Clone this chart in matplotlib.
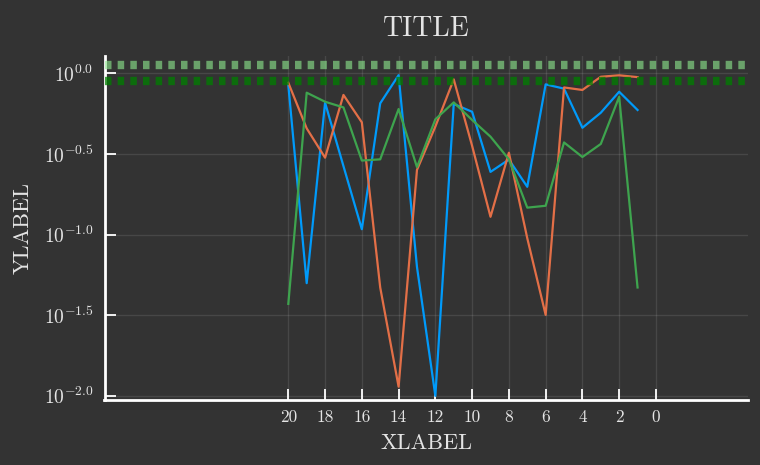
import matplotlib

matplotlib.use("Agg")

import matplotlib.pyplot as plt
import numpy as np
from matplotlib.ticker import FixedLocator, FuncFormatter

x_values = [20, 19, 18, 17, 16, 15, 14, 13, 12, 11, 10, 9, 8, 7, 6, 5, 4, 3, 2, 1]
blue_values = [0.847, 0.050, 0.658, 0.266, 0.108, 0.652, 0.975, 0.063, 0.010, 0.646,
               0.578, 0.245, 0.292, 0.198, 0.855, 0.804, 0.460, 0.570, 0.769, 0.593]
orange_values = [0.875, 0.456, 0.300, 0.735, 0.497, 0.047, 0.0114, 0.252, 0.468, 0.918,
                 0.355, 0.129, 0.322, 0.095, 0.0318, 0.818, 0.789, 0.953, 0.973, 0.948]
green_values = [0.0372, 0.759, 0.667, 0.615, 0.288, 0.293, 0.601, 0.262, 0.519, 0.661,
                0.514, 0.405, 0.293, 0.147, 0.151, 0.373, 0.303, 0.365, 0.716, 0.047]
hline_values = [1.12, 0.9]
x_ticks = [20, 18, 16, 14, 12, 10, 8, 6, 4, 2, 0]
y_ticks = [1.0, 10 ** -0.5, 0.1, 10 ** -1.5, 0.01]

BG = "#333333"
FG = "#e4e4e4"

plt.rcParams["font.family"] = "cmr10"
plt.rcParams["mathtext.fontset"] = "cm"
plt.rcParams["axes.formatter.use_mathtext"] = True

fig = plt.figure(figsize=(7.6, 4.65), dpi=100, facecolor=BG)
ax = fig.add_axes([0.1375, 0.14, 0.8465, 0.74], facecolor=BG)

ax.plot(x_values, blue_values, color="#009afa", lw=1.6, zorder=3)
ax.plot(x_values, orange_values, color="#e36f47", lw=1.6, zorder=3)
ax.plot(x_values, green_values, color="#3ea44e", lw=1.6, zorder=3)

hline_colors = [("#90ee90", 0.6), ("#008000", 0.75)]
for value, (color, alpha) in zip(hline_values, hline_colors):
    ax.axhline(value, color=color, alpha=alpha, lw=6, solid_capstyle="butt",
               dash_capstyle="butt", linestyle=(0, (0.78, 0.74)), zorder=4)

ax.set_yscale("log")
ax.set_xlim(30, -5)
ax.set_ylim(10 ** -2.025, 10 ** 0.109)
ax.xaxis.set_major_locator(FixedLocator(x_ticks))
ax.yaxis.set_major_locator(FixedLocator(y_ticks))
ax.yaxis.set_minor_locator(FixedLocator([]))
ax.yaxis.set_major_formatter(FuncFormatter(lambda v, _: f"$10^{{{np.log10(v):.1f}}}$"))
ax.xaxis.set_major_formatter(FuncFormatter(lambda v, _: f"{int(v)}"))

for side in ("top", "right"):
    ax.spines[side].set_visible(False)
for side in ("left", "bottom"):
    ax.spines[side].set_color("white")
    ax.spines[side].set_linewidth(2)

ax.tick_params(direction="in", length=8, width=1.3, color="white", labelcolor=FG,
               labelsize=12.5, pad=7)
ax.tick_params(axis="y", labelsize=14, pad=8)
ax.grid(True, color="white", alpha=0.1, lw=1)
ax.set_axisbelow(True)

ax.set_title("TITLE", color=FG, fontsize=20, pad=14)
ax.set_xlabel("XLABEL", color=FG, fontsize=16, labelpad=6)
ax.set_ylabel("YLABEL", color=FG, fontsize=16, labelpad=8)

fig.savefig("out.png", dpi=100, facecolor=BG)
plt.close(fig)
